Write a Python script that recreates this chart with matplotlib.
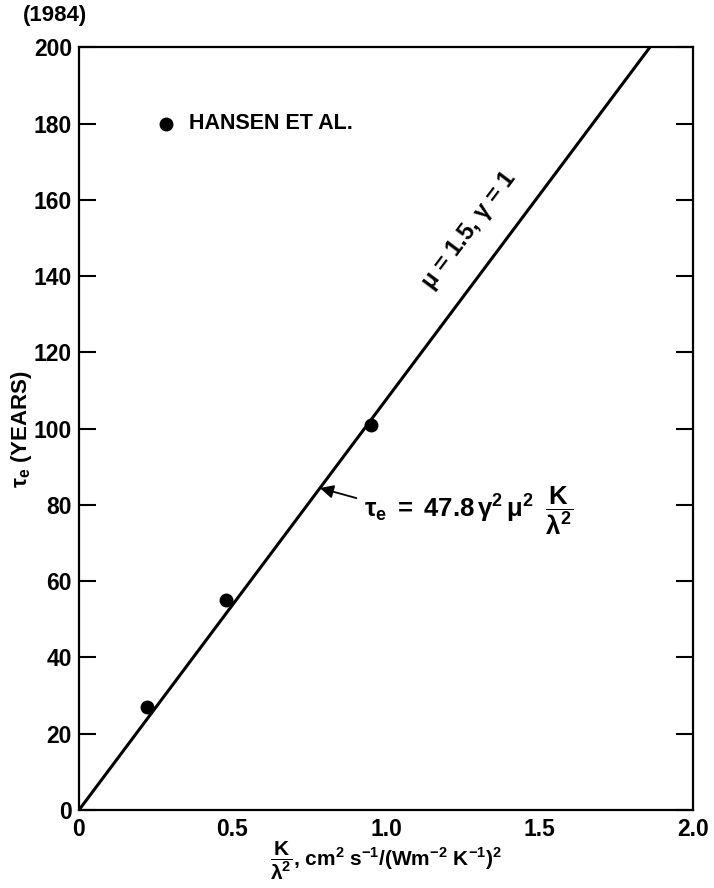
import numpy as np
import matplotlib.pyplot as plt

plt.rcParams["font.family"] = ["Liberation Sans", "DejaVu Sans"]
plt.rcParams["font.weight"] = "bold"
plt.rcParams["mathtext.fontset"] = "custom"
plt.rcParams["mathtext.rm"] = "Liberation Sans:bold"
plt.rcParams["mathtext.bf"] = "Liberation Sans:bold"
plt.rcParams["mathtext.it"] = "Liberation Sans:bold"
plt.rcParams["mathtext.default"] = "bf"

# Hansen et al. points
hansen_x = [0.22, 0.48, 0.95]
hansen_tau = [27, 55, 101]

# tau_e = 47.8 gamma^2 mu^2 K/lambda^2
coef = 47.8
mu = 1.5
gamma = 1.0
slope = coef * gamma ** 2 * mu ** 2
line_x = np.array([0.0, 200.0 / slope])
line_tau = slope * line_x

x_ticks = [0, 0.5, 1.0, 1.5, 2.0]
x_ticklabels = ["0", "0.5", "1.0", "1.5", "2.0"]
y_ticks = [0, 20, 40, 60, 80, 100, 120, 140, 160, 180, 200]

fig = plt.figure(figsize=(7.14, 8.88), dpi=100)
ax = fig.add_axes([0.1106, 0.0878, 0.86, 0.859])

ax.plot(line_x, line_tau, color="black", lw=2.2, solid_capstyle="butt")
ax.plot(hansen_x, hansen_tau, "o", color="black", ms=9)

ax.set_xlim(0, 2.0)
ax.set_ylim(0, 200)
ax.set_xticks(x_ticks)
ax.set_xticklabels(x_ticklabels)
ax.set_yticks(y_ticks)
ax.tick_params(axis="y", direction="in", length=12, width=1.5, left=True, right=True,
               labelsize=16.5, pad=5)
ax.tick_params(axis="x", length=0, labelsize=16.5, pad=6)
for s in ax.spines.values():
    s.set_linewidth(1.6)

# legend entry
ax.plot([0.285], [180], "o", color="black", ms=9)
ax.text(0.36, 180, "HANSEN ET AL.", fontsize=15.5, fontweight="bold", va="center", ha="left")

# curve label along the line
ax.text(1.272, 152, r"$\mu$ = 1.5, $\gamma$ = 1", fontsize=17, fontweight="bold",
        rotation=53, rotation_mode="anchor", ha="center", va="center")

# formula with arrow to the line
ax.annotate(r"$\tau_e\;=\;47.8\,\gamma^2\,\mu^2\;\;\dfrac{K}{\lambda^2}$",
            xy=(0.785, slope * 0.785), xytext=(0.93, 76.8),
            fontsize=18.5, va="baseline", ha="left",
            arrowprops=dict(arrowstyle="-|>", color="black", lw=1.3,
                            mutation_scale=20, shrinkA=4, shrinkB=0,
                            relpos=(0.0, 0.7)))

ax.set_xlabel(r"$\dfrac{K}{\lambda^2}$, cm$^2$ s$^{-1}$/(Wm$^{-2}$ K$^{-1}$)$^2$",
              fontsize=15, fontweight="bold", labelpad=-1)
ax.set_ylabel(r"$\tau_e$ (YEARS)", fontsize=16, fontweight="bold", labelpad=0)

fig.text(0.032, 0.983, "(1984)", fontsize=16, fontweight="bold", ha="left", va="center")

fig.savefig("out.png", dpi=100)
